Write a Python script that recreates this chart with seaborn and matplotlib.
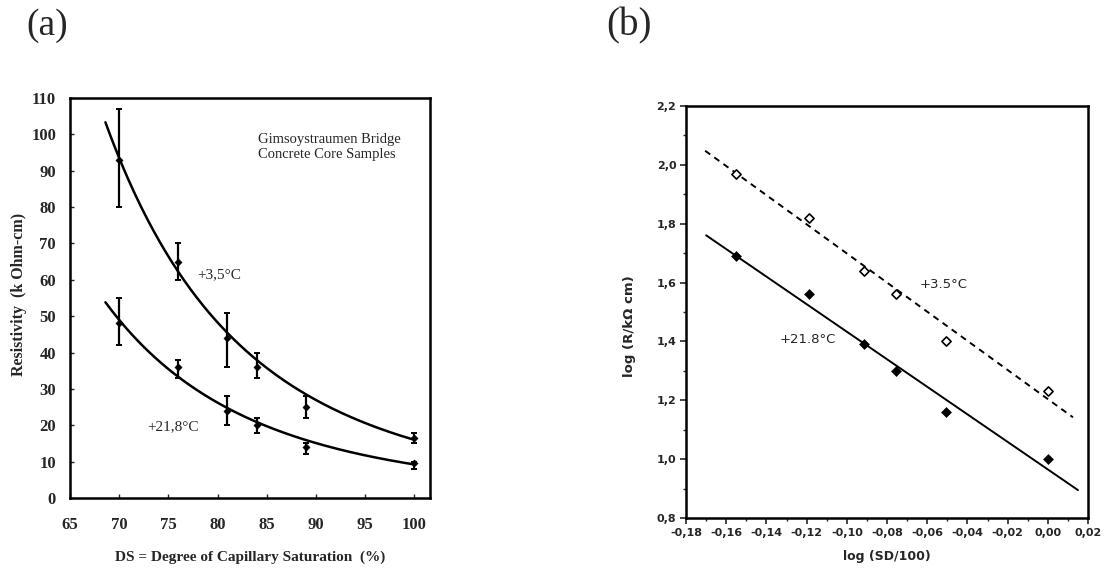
import numpy as np
import pandas as pd
import matplotlib
matplotlib.use("Agg")
import matplotlib.pyplot as plt
import seaborn as sns
from matplotlib.ticker import FuncFormatter, MultipleLocator

# ---------------- data ----------------
ds = [70, 76, 81, 84, 89, 100]                       # degree of capillary saturation (%)
res_35 = [93, 65, 44, 36, 25, 16.5]                  # resistivity at +3.5 C (k Ohm-cm)
res_35_lo = [80, 60, 36, 33, 22, 15]
res_35_hi = [107, 70, 51, 40, 28, 18]
res_218 = [48, 36, 24, 20, 14, 9.5]                  # resistivity at +21.8 C
res_218_lo = [42, 33, 20, 18, 12, 8]
res_218_hi = [55, 38, 28, 22, 15, 10]

# panel (b): log-log values as plotted
log_sd = [-0.155, -0.119, -0.0915, -0.0757, -0.0506, 0.0]
log_r_35 = [1.97, 1.82, 1.64, 1.56, 1.40, 1.23]
log_r_218 = [1.69, 1.56, 1.39, 1.30, 1.16, 1.00]

# power-law fits: log R = intercept + slope * log(DS/100)
fit_intercept = [1.204, 0.965]                       # [+3.5 C, +21.8 C]
fit_slope = [-4.95, -4.68]
fit_ds_range = [68.6, 100.0]                         # DS range of fitted curves in (a)
fit_log_range = [[-0.1705, 0.0125], [-0.17, 0.015]]  # log(SD/100) range of fitted lines in (b)

a_xticks = [65, 70, 75, 80, 85, 90, 95, 100]
a_yticks = [0, 10, 20, 30, 40, 50, 60, 70, 80, 90, 100, 110]
b_xticks = [-0.18, -0.16, -0.14, -0.12, -0.10, -0.08, -0.06, -0.04, -0.02, 0.00, 0.02]
b_yticks = [0.8, 1.0, 1.2, 1.4, 1.6, 1.8, 2.0, 2.2]

# ---------------- style ----------------
sns.set_theme(style="ticks")
plt.rcParams["font.family"] = ["DejaVu Sans"]
SERIF = "Liberation Serif"

fig = plt.figure(figsize=(11.13, 5.75), dpi=100)
axA = fig.add_axes([0.0629, 0.1339, 0.3235, 0.6957])
axB = fig.add_axes([0.6164, 0.0991, 0.3612, 0.7165])

# ---------------- panel (a) ----------------
dfa = pd.DataFrame({
    "ds": ds * 2,
    "R": res_35 + res_218,
    "lo": res_35_lo + res_218_lo,
    "hi": res_35_hi + res_218_hi,
    "T": ["+3,5°C"] * len(ds) + ["+21,8°C"] * len(ds),
})
curves = []
for T, b0, b1 in zip(["+3,5°C", "+21,8°C"], fit_intercept, fit_slope):
    xs = np.linspace(fit_ds_range[0], fit_ds_range[1], 200)
    ys = 10 ** (b0 + b1 * np.log10(xs / 100.0))
    curves.append(pd.DataFrame({"ds": xs, "R": ys, "T": T}))
dfa_fit = pd.concat(curves)

sns.lineplot(data=dfa_fit, x="ds", y="R", units="T", estimator=None,
             color="black", lw=1.8, ax=axA)
axA.errorbar(dfa["ds"], dfa["R"],
             yerr=[dfa["R"] - dfa["lo"], dfa["hi"] - dfa["R"]],
             fmt="none", ecolor="black", elinewidth=1.6, capsize=2.5, capthick=1.4)
sns.scatterplot(data=dfa, x="ds", y="R", color="black", marker="D", s=14,
                edgecolor="black", ax=axA, legend=False)

axA.set_xlim(65, 101.6)
axA.set_ylim(0, 110)
axA.set_xticks(a_xticks)
axA.set_yticks(a_yticks)
axA.tick_params(axis="y", direction="in", length=3, width=1, pad=10, labelsize=12)
axA.tick_params(axis="x", direction="in", length=3, width=1, pad=14, labelsize=12)
for lab in axA.get_xticklabels() + axA.get_yticklabels():
    lab.set_fontfamily(SERIF)
    lab.set_fontweight("bold")
for sp in axA.spines.values():
    sp.set_visible(True)
    sp.set_linewidth(1.8)
    sp.set_color("black")
axA.set_xlabel("DS = Degree of Capillary Saturation  (%)", fontfamily=SERIF,
               fontweight="bold", fontsize=11, labelpad=12)
axA.set_ylabel("Resistivity  (k Ohm-cm)", fontfamily=SERIF, fontweight="bold",
               fontsize=11.5)
axA.yaxis.set_label_coords(-0.12, 0.51)
axA.text(0.522, 0.9125, "Gimsoystraumen Bridge\nConcrete Core Samples",
         transform=axA.transAxes, ha="left", va="top", fontfamily=SERIF,
         fontsize=10.5, linespacing=1.2)
axA.text(77.9, 61.3, "+3,5°C", fontfamily=SERIF, fontsize=11, ha="left", va="center")
axA.text(72.9, 19.5, "+21,8°C", fontfamily=SERIF, fontsize=11, ha="left", va="center")

# ---------------- panel (b) ----------------
dfb = pd.DataFrame({
    "x": log_sd * 2,
    "y": log_r_35 + log_r_218,
    "T": ["+3.5°C"] * len(log_sd) + ["+21.8°C"] * len(log_sd),
})
lines = []
for T, b0, b1, rng in zip(["+3.5°C", "+21.8°C"], fit_intercept, fit_slope, fit_log_range):
    xs = np.linspace(rng[0], rng[1], 50)
    lines.append(pd.DataFrame({"x": xs, "y": b0 + b1 * xs, "T": T}))
dfb_fit = pd.concat(lines)

sns.lineplot(data=dfb_fit[dfb_fit["T"] == "+3.5°C"], x="x", y="y", color="black",
             lw=1.4, ax=axB, linestyle=(0, (3.2, 2.6)))
sns.lineplot(data=dfb_fit[dfb_fit["T"] == "+21.8°C"], x="x", y="y", color="black",
             lw=1.4, ax=axB)
sns.scatterplot(data=dfb[dfb["T"] == "+3.5°C"], x="x", y="y", marker="D", s=22,
                facecolor="white", edgecolor="black", linewidth=1.2, ax=axB, zorder=5)
sns.scatterplot(data=dfb[dfb["T"] == "+21.8°C"], x="x", y="y", marker="D", s=26,
                color="black", edgecolor="black", ax=axB, zorder=5)

axB.set_xlim(-0.18, 0.02)
axB.set_ylim(0.8, 2.2)
axB.set_xticks(b_xticks)
axB.set_yticks(b_yticks)
axB.xaxis.set_minor_locator(MultipleLocator(0.01))
axB.yaxis.set_minor_locator(MultipleLocator(0.1))
axB.xaxis.set_major_formatter(FuncFormatter(lambda v, p: f"{v:.2f}".replace(".", ",")))
axB.yaxis.set_major_formatter(FuncFormatter(lambda v, p: f"{v:.1f}".replace(".", ",")))
axB.tick_params(which="major", direction="out", length=4, width=1.2, labelsize=8, pad=3)
axB.tick_params(which="minor", direction="out", length=2.5, width=1)
for lab in axB.get_xticklabels() + axB.get_yticklabels():
    lab.set_fontweight("bold")
for sp in axB.spines.values():
    sp.set_visible(True)
    sp.set_linewidth(1.8)
    sp.set_color("black")
axB.set_xlabel("log (SD/100)", fontsize=9, fontweight="bold", labelpad=9)
axB.set_ylabel("log (R/kΩ cm)", fontsize=9.5, fontweight="bold")
axB.yaxis.set_label_coords(-0.125, 0.466)
axB.text(-0.0636, 1.592, "+3.5°C", fontsize=9.5, fontweight="medium", ha="left", va="center")
axB.text(-0.1332, 1.405, "+21.8°C", fontsize=9.5, fontweight="medium", ha="left", va="center")

# ---------------- panel letters ----------------
fig.text(0.024, 0.955, "(a)", fontfamily=SERIF, fontsize=27, ha="left", va="center")
fig.text(0.545, 0.955, "(b)", fontfamily=SERIF, fontsize=28, ha="left", va="center")

fig.savefig("out.png", dpi=100, facecolor="white")
